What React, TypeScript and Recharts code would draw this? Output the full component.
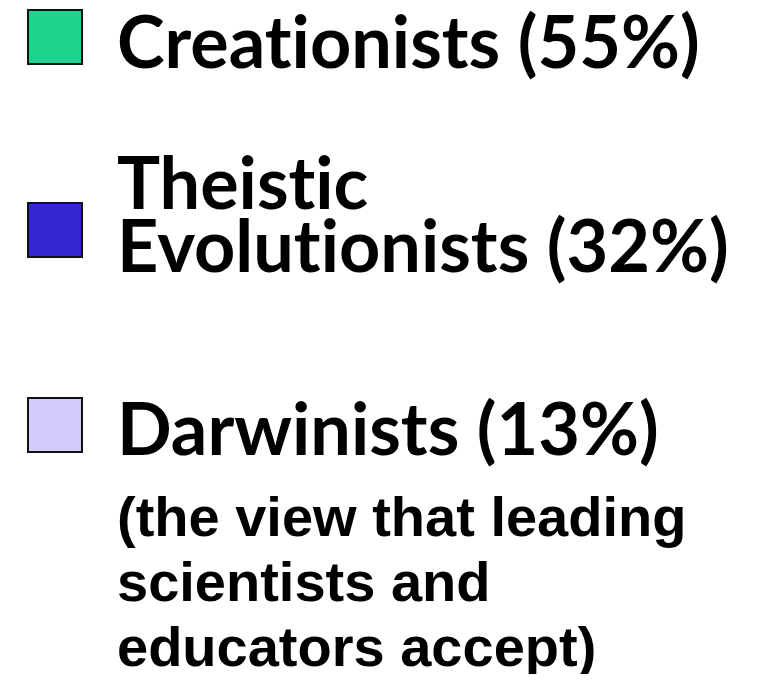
import { PieChart, Pie, Cell, Legend } from "recharts";

const groups = ["Creationists", "Theistic Evolutionists", "Darwinists"];
const shares = [55, 32, 13];
const colors = ["#1fd28e", "#3326d0", "#d3ccfa"];
const noteLines = ["(the view that leading", "scientists and", "educators accept)"];

const data = groups.map((name, i) => ({ name, value: shares[i] }));

// square tops and text tops for each legend row
const squareTops = [9, 202, 397];
const textTops = [9, 150, 396];

function LegendBlock({ payload }: any) {
  const items = groups.map((g, i) => {
    const p = (payload || []).find((x: any) => x.value === g);
    return { name: g, color: p ? p.color : colors[i], pct: shares[i] };
  });
  return (
    <div style={{ position: "relative", width: 760, height: 682 }}>
      {items.map((it, i) => {
        const words = it.name.split(" ");
        const twoLine = words.length > 1;
        return (
          <div key={it.name}>
            <div
              style={{
                position: "absolute", left: 27, top: squareTops[i], width: 52, height: 52,
                background: it.color, border: "2px solid #111",
              }}
            />
            <div
              style={{
                position: "absolute", left: 117, top: textTops[i],
                fontFamily: "Lato, 'Open Sans', sans-serif", fontWeight: 700,
                fontSize: 72, lineHeight: "63px", color: "#000", whiteSpace: "nowrap",
                fontVariantLigatures: "none", letterSpacing: 0,
              }}
            >
              {twoLine ? (
                <>
                  {words[0]}<br />{words.slice(1).join(" ")} ({it.pct}%)
                </>
              ) : (
                <>{it.name} ({it.pct}%)</>
              )}
            </div>
          </div>
        );
      })}
      <div
        style={{
          position: "absolute", left: 117, top: 484,
          fontFamily: "'Liberation Sans', Arial, sans-serif", fontWeight: 700,
          fontSize: 56, lineHeight: "65px", color: "#000", whiteSpace: "nowrap",
        }}
      >
        {noteLines.map((l) => (<div key={l}>{l}</div>))}
      </div>
    </div>
  );
}

export default function App() {
  return (
    <div style={{ margin: -8, width: 760, height: 682, background: "#fff", overflow: "hidden" }}>
      <PieChart width={760} height={682} margin={{ top: 0, right: 0, bottom: 0, left: 0 }}>
        <Pie
          data={data}
          dataKey="value"
          nameKey="name"
          cx={-200}
          cy={-200}
          outerRadius={0}
          isAnimationActive={false}
        >
          {data.map((d, i) => (
            <Cell key={d.name} fill={colors[i]} />
          ))}
        </Pie>
        <Legend
          content={<LegendBlock />}
          wrapperStyle={{ top: 0, left: 0, width: 760, height: 682 }}
        />
      </PieChart>
    </div>
  );
}
